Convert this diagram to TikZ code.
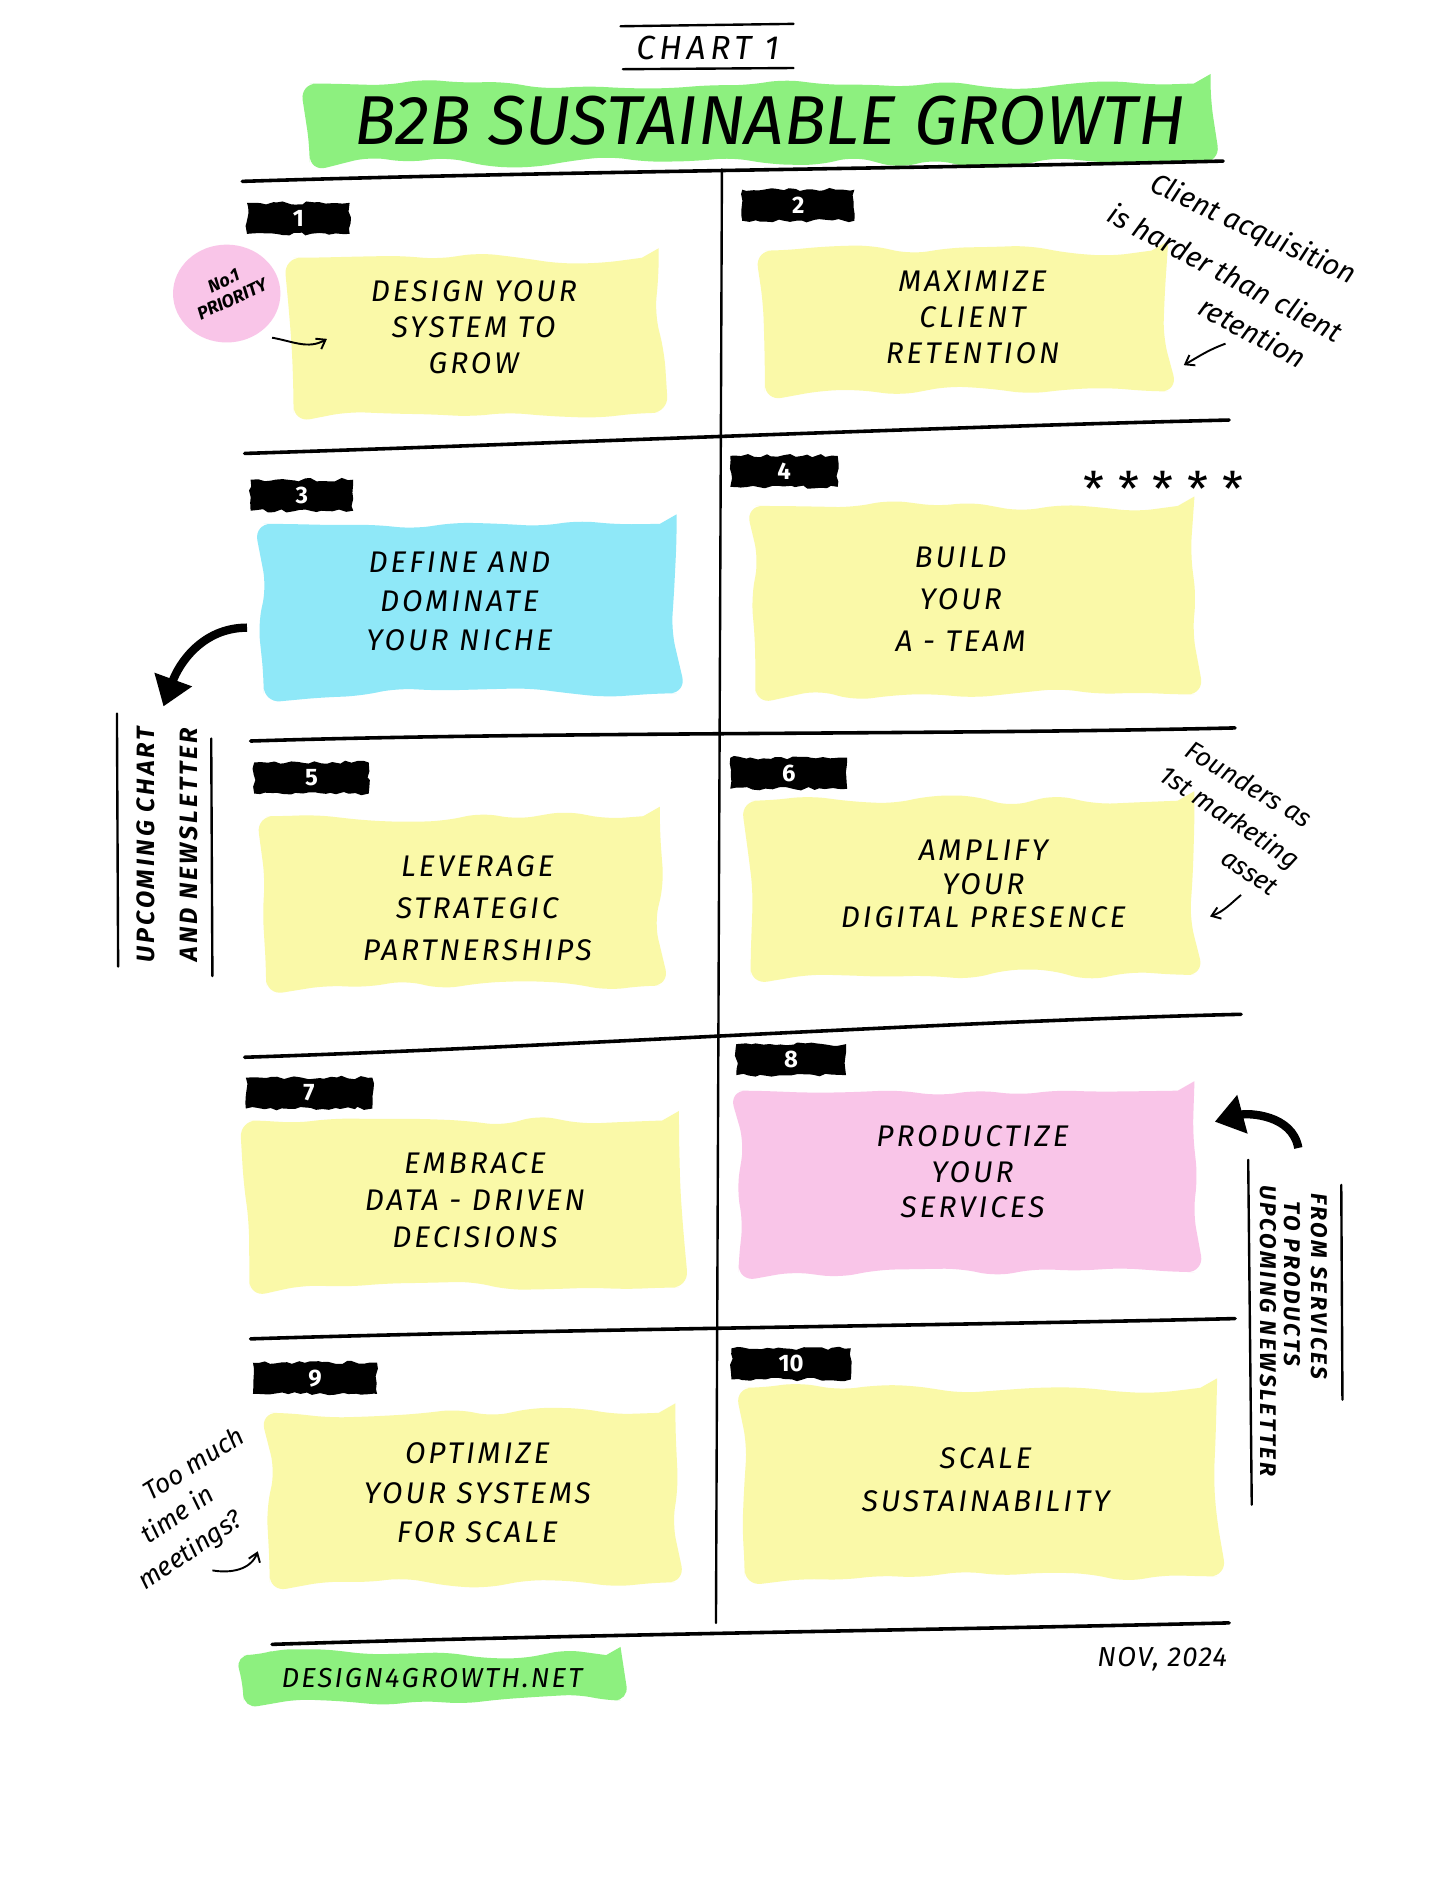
\documentclass[tikz,border=0pt]{standalone}
\usepackage{fontspec}
\setmainfont{Fira Sans}
\usetikzlibrary{decorations.pathmorphing,arrows.meta,shapes.geometric}
\definecolor{hlyellow}{HTML}{FAF9A8}
\definecolor{hlgreen}{HTML}{8DF07F}
\definecolor{hlblue}{HTML}{8FE8F8}
\definecolor{hlpink}{HTML}{F9C5E8}
\newcommand{\boxfont}[1]{\fontsize{25}{#1}\selectfont\itshape\addfontfeatures{LetterSpace=10}}
\begin{document}
\begin{tikzpicture}[x=1pt,y=-1pt,
  blob/.style={rectangle, inner sep=0pt, decorate,
    decoration={random steps, segment length=34pt, amplitude=5pt}, rounded corners=14pt},
  numbox/.style={rectangle, fill=black, text=white, inner sep=0pt, minimum width=86pt,
    minimum height=26pt, decorate, decoration={random steps, segment length=5pt, amplitude=1.5pt},
    font=\fontsize{20}{20}\selectfont\bfseries},
  boxtext/.style={align=center, font=\boxfont{30}},
  note/.style={font=\fontsize{22}{22}\selectfont\itshape},
  vnote/.style={align=center, font=\fontsize{21}{36}\selectfont\bfseries\itshape\addfontfeatures{LetterSpace=12}},
  rvnote/.style={font=\fontsize{19}{19}\selectfont\bfseries\itshape\addfontfeatures{LetterSpace=12}, rotate=-90},
  rule/.style={line width=3pt, line cap=round},
  thin rule/.style={line width=2pt, line cap=round},
  small arrow/.style={line width=1.6pt, -{Straight Barb[length=7pt,width=10pt]}},
  big arrow/.style={line width=7pt, -{Triangle[length=24pt,width=32pt]}}
]
\pgfmathsetseed{7}
\useasboundingbox (0,0) rectangle (1220,1578);
\fill[white] (0,0) rectangle (1220,1578);

% header
\node[font=\fontsize{28}{28}\selectfont\itshape\addfontfeatures{LetterSpace=14}] (chart) at (593,40) {CHART 1};
\coordinate (ca1) at (520,22); \coordinate (ca2) at (665,20);
\coordinate (cb1) at (522,58); \coordinate (cb2) at (665,57);
\draw[thin rule] (ca1) -- (ca2);
\draw[thin rule] (cb1) -- (cb2);
\node[blob, fill=hlgreen, minimum width=755pt, minimum height=66pt] (titlebar) at (637,103) {};
\node[font=\fontsize{58}{58}\selectfont\itshape] (title) at (645,101) {B2B SUSTAINABLE GROWTH};

% grid lines
\coordinate (h1a) at (203,152); \coordinate (h1b) at (1025,135);
\coordinate (h2a) at (205,380); \coordinate (h2b) at (1030,352);
\coordinate (h3a) at (210,621); \coordinate (h3b) at (1035,610);
\coordinate (h4a) at (205,886); \coordinate (h4b) at (1040,850);
\coordinate (h5a) at (210,1122); \coordinate (h5b) at (1035,1105);
\coordinate (h6a) at (228,1378); \coordinate (h6b) at (1030,1360);
\coordinate (v1) at (605,142); \coordinate (v2) at (600,1360);
\foreach \r in {1,...,6}{\draw[rule] (h\r a) .. controls +(250,-8) and +(-250,6) .. (h\r b);}
\draw[thin rule] (v1) -- (v2);

% sticky notes
\node[blob, fill=hlyellow, minimum width=306pt, minimum height=130pt] (b1) at (399,281) {};
\node[blob, fill=hlyellow, minimum width=338pt, minimum height=118pt] (b2) at (810,269) {};
\node[blob, fill=hlblue, minimum width=346pt, minimum height=142pt] (b3) at (394,510) {};
\node[blob, fill=hlyellow, minimum width=368pt, minimum height=158pt] (b4) at (817,503) {};
\node[blob, fill=hlyellow, minimum width=330pt, minimum height=142pt] (b5) at (388,755) {};
\node[blob, fill=hlyellow, minimum width=372pt, minimum height=146pt] (b6) at (815,744) {};
\node[blob, fill=hlyellow, minimum width=360pt, minimum height=140pt] (b7) at (389,1009) {};
\node[blob, fill=hlpink, minimum width=382pt, minimum height=152pt] (b8) at (810,990) {};
\node[blob, fill=hlyellow, minimum width=340pt, minimum height=142pt] (b9) at (396,1255) {};
\node[blob, fill=hlyellow, minimum width=396pt, minimum height=158pt] (b10) at (822,1242) {};

\node[boxtext] (t1) at (397,274) {DESIGN YOUR\\SYSTEM TO\\GROW};
\node[boxtext] (t2) at (815,266) {MAXIMIZE\\CLIENT\\RETENTION};
\node[boxtext, font=\boxfont{33}] (t3) at (385,504) {DEFINE AND\\DOMINATE\\YOUR NICHE};
\node[boxtext, font=\boxfont{35}] (t4) at (805,502) {BUILD\\YOUR\\A - TEAM};
\node[boxtext, font=\boxfont{35}] (t5) at (400,761) {LEVERAGE\\STRATEGIC\\PARTNERSHIPS};
\node[boxtext, font=\boxfont{28}] (t6) at (824,741) {AMPLIFY\\YOUR\\DIGITAL PRESENCE};
\node[boxtext, font=\boxfont{31}] (t7) at (398,1006) {EMBRACE\\DATA - DRIVEN\\DECISIONS};
\node[boxtext] (t8) at (815,982) {PRODUCTIZE\\YOUR\\SERVICES};
\node[boxtext, font=\boxfont{33}] (t9) at (400,1251) {OPTIMIZE\\YOUR SYSTEMS\\FOR SCALE};
\node[boxtext, font=\boxfont{36}] (t10) at (826,1240) {SCALE\\SUSTAINABILITY};

% number tags
\node[numbox] (n1) at (250,183) {1};
\node[numbox, minimum width=94pt] (n2) at (669,172) {2};
\node[numbox] (n3) at (253,415) {3};
\node[numbox, minimum width=90pt] (n4) at (657,395) {4};
\node[numbox, minimum width=96pt] (n5) at (261,652) {5};
\node[numbox, minimum width=98pt] (n6) at (661,648) {6};
\node[numbox, minimum width=106pt] (n7) at (259,916) {7};
\node[numbox, minimum width=92pt] (n8) at (663,888) {8};
\node[numbox, minimum width=104pt] (n9) at (264,1155) {9};
\node[numbox, minimum width=100pt] (n10) at (663,1143) {10};

% No.1 priority
\node[ellipse, fill=hlpink, minimum width=90pt, minimum height=82pt] (prio) at (190,246) {};
\node[rotate=25, align=center, font=\fontsize{15}{17}\selectfont\bfseries\itshape] (priotext) at (191,243) {No.1\\PRIORITY};
\coordinate (p1s) at (228,283); \coordinate (p1e) at (274,284);
\draw[small arrow] (p1s) to[out=-10,in=-150] (p1e);

% client acquisition note
\node[note, rotate=-25, font=\fontsize{24}{24}\selectfont\itshape] (c2a) at (1050,193) {Client acquisition};
\node[note, rotate=-28, font=\fontsize{24}{24}\selectfont\itshape] (c2b) at (1027,228) {is harder than client};
\node[note, rotate=-28, font=\fontsize{24}{24}\selectfont\itshape] (c2c) at (1050,278) {retention};
\coordinate (a2s) at (1027,288); \coordinate (a2e) at (992,306);
\draw[small arrow] (a2s) to[out=200,in=30] (a2e);

% stars
\node[font=\fontsize{40}{40}\selectfont\addfontfeatures{LetterSpace=28}] (stars) at (975,410) {*****};

% left big arrow and upcoming chart
\coordinate (ba1s) at (207,526); \coordinate (ba1e) at (137,592);
\draw[big arrow] (ba1s) to[out=180,in=70] (ba1e);
\node[vnote, rotate=90] (up1) at (140,708) {UPCOMING CHART\\AND NEWSLETTER};
\coordinate (l1a) at (98,598); \coordinate (l1b) at (99,810);
\coordinate (l2a) at (177,619); \coordinate (l2b) at (178,818);
\draw[thin rule] (l1a) -- (l1b);
\draw[thin rule] (l2a) -- (l2b);

% founders note
\node[note, rotate=-31] (f6a) at (1047,657) {Founders as};
\node[note, rotate=-34] (f6b) at (1030,686) {1st marketing};
\node[note, rotate=-34] (f6c) at (1047,731) {asset};
\coordinate (a6s) at (1040,750); \coordinate (a6e) at (1014,768);
\draw[small arrow] (a6s) to[out=220,in=20] (a6e);

% right big arrow and upcoming newsletter
\coordinate (ba2s) at (1088,962); \coordinate (ba2e) at (1018,940);
\draw[big arrow] (ba2s) to[out=100,in=15] (ba2e);
\node[rvnote] (up2) at (1106,1078) {FROM SERVICES};
\node[rvnote] (up2b) at (1083,1076) {TO PRODUCTS};
\node[rvnote] (up3) at (1063,1115) {UPCOMING NEWSLETTER};
\coordinate (l3a) at (1124,993); \coordinate (l3b) at (1125,1173);
\coordinate (l4a) at (1046,972); \coordinate (l4b) at (1049,1261);
\draw[thin rule] (l3a) -- (l3b);
\draw[thin rule] (l4a) -- (l4b);

% meetings note
\node[note, rotate=32] (m9a) at (162,1226) {Too much};
\node[note, rotate=34] (m9b) at (148,1268) {time in};
\node[note, rotate=34] (m9c) at (160,1300) {meetings?};
\coordinate (a9s) at (178,1316); \coordinate (a9e) at (216,1300);
\draw[small arrow] (a9s) to[out=-10,in=-110] (a9e);

% footer
\node[blob, fill=hlgreen, minimum width=316pt, minimum height=38pt, rounded corners=12pt] (site) at (362,1406) {};
\node[font=\fontsize{23}{23}\selectfont\itshape\addfontfeatures{LetterSpace=8}] (sitetext) at (362,1406) {DESIGN4GROWTH.NET};
\node[font=\fontsize{23}{23}\selectfont\itshape\addfontfeatures{LetterSpace=5}] (date) at (974,1390) {NOV, 2024};
\end{tikzpicture}
\end{document}
